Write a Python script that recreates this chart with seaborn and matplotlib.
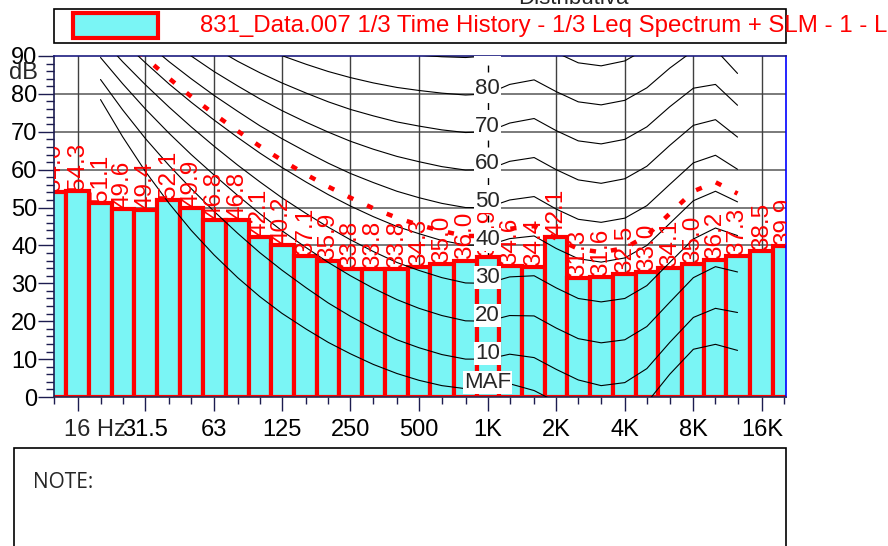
import numpy as np
import pandas as pd
import matplotlib
matplotlib.use('Agg')
import matplotlib.pyplot as plt
import matplotlib.transforms as mtransforms
from matplotlib.patches import Rectangle
from matplotlib.ticker import FixedLocator, MultipleLocator, NullFormatter
import seaborn as sns

# Style first, then fonts (seaborn resets font.family)
sns.set_style('ticks')
plt.rcParams['font.family'] = ['Liberation Sans', 'DejaVu Sans']

# 1/3 octave band spectrum (Leq, dB)
band_freqs = [12.5, 16, 20, 25, 31.5, 40, 50, 63, 80, 100, 125, 160, 200, 250, 315,
              400, 500, 630, 800, 1000, 1250, 1600, 2000, 2500, 3150, 4000, 5000,
              6300, 8000, 10000, 12500, 16000, 20000]
band_levels = [54.0, 54.3, 51.1, 49.6, 49.4, 52.1, 49.9, 46.8, 46.8, 42.1, 40.2, 37.1,
               35.9, 33.8, 33.8, 33.8, 34.3, 35.0, 36.0, 36.9, 34.6, 34.4, 42.1, 31.3,
               31.6, 32.5, 33.0, 34.1, 35.0, 36.2, 37.3, 38.5, 39.9]

# equal loudness contours (dB at each 1/3 octave band)
contour_freqs = [20, 25, 31.5, 40, 50, 63, 80, 100, 125, 160, 200, 250, 315, 400, 500,
                 630, 800, 1000, 1250, 1600, 2000, 2500, 3150, 4000, 5000, 6300, 8000,
                 10000, 12500]
nan = np.nan
maf = [78.5, 68.7, 59.5, 51.1, 44.0, 37.5, 31.5, 26.5, 22.1, 17.9, 14.4, 11.4, 8.6, 6.2,
       4.4, 3.0, 2.2, 2.4, 3.5, 1.7, -1.3, -4.2, -6.0, -5.4, -1.5, 6.0, 12.6, 13.9, 12.3]
phon10 = [83.8, 75.8, 68.2, 61.1, 55.0, 49.0, 43.2, 38.1, 33.5, 28.8, 24.8, 21.3, 18.1,
          15.1, 13.0, 11.2, 10.0, 10.0, 11.3, 10.4, 7.3, 4.5, 3.0, 3.8, 7.5, 14.4, 21.0,
          23.4, 22.3]
phon20 = [89.6, 82.7, 76.0, 69.6, 64.0, 58.6, 53.2, 48.4, 43.9, 39.4, 35.5, 32.0, 28.7,
          25.7, 23.4, 21.5, 20.1, 20.0, 21.5, 21.4, 18.2, 15.4, 14.3, 15.1, 18.6, 25.0,
          31.5, 34.4, 33.0]
phon30 = [94.9, 88.5, 82.4, 76.5, 71.3, 66.2, 61.2, 56.8, 52.6, 48.4, 44.8, 41.5, 38.4,
          35.5, 33.4, 31.5, 30.1, 30.0, 31.7, 32.0, 28.8, 26.0, 25.1, 26.0, 29.4, 35.5,
          41.7, 44.6, 42.6]
phon40 = [99.9, 93.9, 88.2, 82.6, 77.8, 73.1, 68.5, 64.4, 60.6, 56.7, 53.4, 50.4, 47.6,
          45.0, 43.1, 41.3, 40.1, 40.0, 41.8, 42.5, 39.2, 36.5, 35.6, 36.7, 40.0, 45.8,
          51.8, 54.3, 51.5]
phon50 = [nan, 99.1, 93.7, 88.5, 84.0, 79.6, 75.4, 71.6, 68.2, 64.7, 61.7, 59.0, 56.6,
          54.3, 52.6, 51.1, 50.0, 50.0, 52.0, 52.9, 49.6, 46.9, 46.1, 47.2, 50.5, 56.1,
          61.8, 63.8, 60.1]
phon60 = [nan, nan, 99.1, 94.2, 90.0, 85.9, 82.1, 78.7, 75.6, 72.5, 69.9, 67.5, 65.4,
          63.5, 62.1, 60.8, 59.9, 60.0, 62.2, 63.2, 60.0, 57.3, 56.4, 57.6, 60.9, 66.4,
          71.7, 73.2, 68.6]
phon70 = [nan, nan, nan, nan, 95.9, 92.2, 88.6, 85.6, 82.9, 80.2, 77.9, 75.9, 74.2,
          72.6, 71.5, 70.5, 69.8, 70.0, 72.3, 73.5, 70.3, 67.6, 66.8, 68.0, 71.3, 76.6,
          81.5, 82.5, 77.0]
phon80 = [nan, nan, nan, nan, nan, nan, 95.2, 92.5, 90.1, 87.8, 85.9, 84.3, 82.9, 81.7,
          80.9, 80.2, 79.7, 80.0, 82.5, 83.7, 80.6, 77.9, 77.1, 78.3, 81.6, 86.8, 91.4,
          91.7, 85.4]
phon90 = [nan, nan, nan, nan, nan, nan, nan, nan, 97.3, 95.4, 93.9, 92.7, 91.6, 90.8,
          90.2, 89.8, 89.6, 90.0, 92.7, 94.0, 90.9, 88.2, 87.4, 88.7, 92.0, 97.0, 101.3,
          101.0, 93.8]
# loudness curve of the measured spectrum (red dotted)
loudness_curve = [nan, 95.2, 89.5, 84.1, 79.3, 74.7, 70.2, 66.2, 62.5, 58.7, 55.5, 52.6,
                  49.8, 47.3, 45.4, 43.8, 42.5, 42.5, 44.4, 45.1, 41.8, 39.1, 38.2, 39.3,
                  42.6, 48.4, 54.3, 56.7, 53.7]

contour_names = ['MAF', '10', '20', '30', '40', '50', '60', '70', '80', '90']
contour_values = [maf, phon10, phon20, phon30, phon40, phon50, phon60, phon70, phon80, phon90]

# axis ticks
major_ticks = [16, 31.5, 63, 125, 250, 500, 1000, 2000, 4000, 8000, 16000]
major_labels = ['', '31.5', '63', '125', '250', '500', '1K', '2K', '4K', '8K', '16K']
minor_ticks = [12.5, 20, 25, 40, 50, 80, 100, 160, 200, 315, 400, 630, 800, 1250, 1600,
               2500, 3150, 5000, 6300, 10000, 12500, 20000]

legend_text = '831_Data.007 1/3 Time History - 1/3 Leq Spectrum + SLM - 1 - L'

BAR_FILL = '#7af5f5'
W, H = 888, 546


def fig_box(x, y, w, h):
    """pixel box (top-left origin) -> figure fraction rectangle"""
    return (x / W, 1 - (y + h) / H), w / W, h / H


fig = plt.figure(figsize=(W / 100, H / 100), dpi=100)
ax = fig.add_axes([54 / W, 1 - 397 / H, 732 / W, 341 / H])
ax.set_xscale('log')
ax.set_xlim(12.5, 20400)
ax.set_ylim(0, 90)

# grid below the bars
for yv in range(10, 90, 10):
    ax.axhline(yv, color='#707070', lw=1.3, zorder=0.5)
for t in major_ticks:
    if t == 1000:
        ax.axvline(t, color='black', lw=1.0, ls=(0, (5, 4)), zorder=0.5)
    else:
        ax.axvline(t, color='#404040', lw=1.0, zorder=0.5)

# bars spanning the band edges
f = np.array(band_freqs)
mid = np.sqrt(f[:-1] * f[1:])
left = np.concatenate([[f[0] / 2 ** (1 / 6)], mid])
right = np.concatenate([mid, [f[-1] * 2 ** (1 / 6)]])
ax.bar(left, band_levels, width=right - left, align='edge', color=BAR_FILL,
       edgecolor='#ff0000', linewidth=3, zorder=2)

# equal loudness contours
df = pd.DataFrame({
    'freq': np.tile(contour_freqs, len(contour_names)),
    'spl': np.concatenate(contour_values),
    'curve': np.repeat(contour_names, len(contour_freqs)),
}).dropna()
sns.lineplot(data=df, x='freq', y='spl', units='curve', estimator=None, color='black',
             linewidth=0.8, legend=False, ax=ax, zorder=3)
ax.plot(contour_freqs, loudness_curve, color='#ff0000', lw=3.2, ls=(0, (1.4, 3.4)),
        zorder=3.5)

# value labels over the bars
for fc, v in zip(band_freqs, band_levels):
    ax.text(fc, v + 0.3, f'{v:.1f}', rotation=90, ha='center', va='bottom',
            color='#ff0000', fontsize=17.5, clip_on=True, zorder=4)

# contour labels at 1 kHz
i1k = contour_freqs.index(1000)
for name, vals in zip(contour_names, contour_values):
    ax.text(1000, vals[i1k] + 1.5, name, ha='center', va='center', fontsize=16,
            bbox=dict(facecolor='white', edgecolor='none', pad=0.8),
            clip_on=True, zorder=5)

# ticks
ax.set_yticks(range(0, 91, 10))
ax.set_yticklabels([str(v) for v in range(0, 91, 10)])
ax.yaxis.set_minor_locator(MultipleLocator(2))
ax.xaxis.set_major_locator(FixedLocator(major_ticks))
ax.set_xticklabels(major_labels)
ax.xaxis.set_minor_locator(FixedLocator(minor_ticks))
ax.xaxis.set_minor_formatter(NullFormatter())
ax.tick_params(axis='x', which='major', length=10, width=1, pad=5.5, labelsize=17,
               colors='#1c1c50', labelcolor='black')
ax.tick_params(axis='x', which='minor', length=5, width=1, colors='#1c1c50')
ax.tick_params(axis='y', which='major', length=11.5, width=1, pad=0.5, labelsize=17,
               colors='#1c1c50', labelcolor='black')
ax.tick_params(axis='y', which='minor', length=5.5, width=1, colors='#1c1c50')
ax.set_xlabel('')
ax.set_ylabel('')
ax.annotate('16 Hz', xy=(16, 0), xycoords=('data', 'axes fraction'),
            xytext=(11.5, -15.5), textcoords='offset points', ha='center', va='top',
            fontsize=17)
ax.text(-16 / 732, 85.6, 'dB', transform=mtransforms.blended_transform_factory(
    ax.transAxes, ax.transData), ha='right', va='center', fontsize=17)

for side, col in [('left', '#1c1c50'), ('bottom', '#2a2a50'), ('top', '#1c1c80'),
                  ('right', '#0000ff')]:
    ax.spines[side].set_visible(True)
    ax.spines[side].set_color(col)
    ax.spines[side].set_linewidth(1.2)

# legend strip and title fragment above the plot
(x0, y0), w0, h0 = fig_box(54, 9, 732, 34)
fig.patches.append(Rectangle((x0, y0), w0, h0, transform=fig.transFigure,
                             facecolor='white', edgecolor='black', lw=1.2))
(x1, y1), w1, h1 = fig_box(73, 13, 85, 25)
fig.patches.append(Rectangle((x1, y1), w1, h1, transform=fig.transFigure,
                             facecolor=BAR_FILL, edgecolor='#ff0000', lw=3))
fig.text(200 / W, 1 - 32 / H, legend_text, color='#ff0000', fontsize=17.3, va='baseline')
fig.text(573 / W, 1 - 4 / H, 'Distributiva', ha='center', va='baseline', fontsize=16)

# note box at the bottom
(x2, y2), w2, h2 = fig_box(14, 448, 772, 120)
fig.patches.append(Rectangle((x2, y2), w2, h2, transform=fig.transFigure,
                             facecolor='none', edgecolor='black', lw=1.2))
fig.text(33 / W, 1 - 483 / H, 'NOTE:', family=['Open Sans', 'DejaVu Sans'],
         fontsize=15, va='center')

fig.savefig('out.png', dpi=100)
